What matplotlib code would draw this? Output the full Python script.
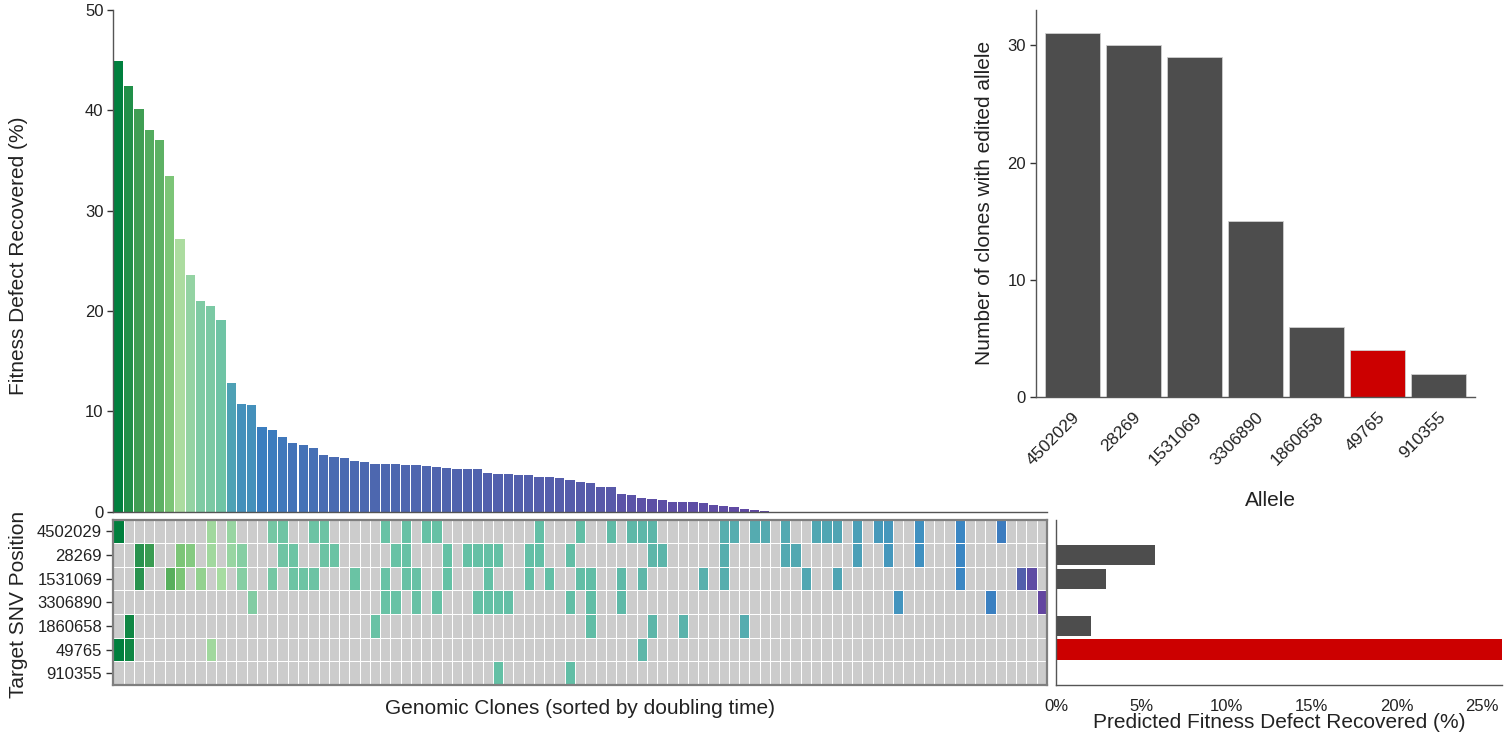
import numpy as np
import matplotlib
matplotlib.use("Agg")
import matplotlib.pyplot as plt
from matplotlib.colors import LinearSegmentedColormap, to_rgb

plt.rcParams['font.family'] = ['Liberation Sans', 'DejaVu Sans']

# ---- datos ----
alleles = ["4502029", "28269", "1531069", "3306890", "1860658", "49765", "910355"]
highlight = "49765"

# fitness defect recovered (%) por clon, ordenado de mayor a menor
fitness_recovered = [44.9, 42.4, 40.1, 38.0, 37.0, 33.5, 27.2, 23.6, 21.0, 20.5,
                     19.1, 12.8, 10.7, 10.6, 8.4, 8.1, 7.4, 6.8, 6.6, 6.3,
                     5.7, 5.5, 5.4, 5.1, 5.0, 4.8, 4.8, 4.75, 4.7, 4.65,
                     4.6, 4.45, 4.4, 4.26, 4.26, 4.22, 3.86, 3.73, 3.73, 3.66,
                     3.63, 3.43, 3.43, 3.33, 3.13, 2.93, 2.90, 2.49, 2.49, 1.73,
                     1.66, 1.37, 1.23, 1.17, 1.0, 1.0, 0.93, 0.90, 0.63, 0.53,
                     0.43, 0.23, 0.13, 0.10] + [0.0] * 27
n_clones = len(fitness_recovered)

# clones (columna, ordenados por doubling time) con cada alelo editado
edit_4502029 = [0, 9, 11, 15, 16, 19, 20, 26, 28, 30, 31, 41, 45, 48, 50, 51, 52, 59,
                60, 62, 63, 65, 68, 69, 70, 72, 74, 75, 78, 82, 86]
edit_28269 = [2, 3, 6, 7, 9, 11, 12, 16, 17, 20, 21, 27, 28, 32, 34, 35, 36, 37, 40,
              41, 44, 52, 53, 59, 65, 66, 72, 75, 78, 82]
edit_1531069 = [2, 5, 6, 8, 10, 12, 15, 17, 18, 19, 23, 26, 28, 29, 32, 36, 40, 42,
                45, 46, 49, 51, 57, 59, 67, 70, 82, 88, 89]
edit_3306890 = [13, 26, 27, 29, 31, 35, 36, 37, 38, 44, 46, 49, 76, 85, 90]
edit_1860658 = [1, 25, 46, 52, 55, 61]
edit_49765 = [0, 1, 9, 51]
edit_910355 = [37, 44]
edited_rows = [edit_4502029, edit_28269, edit_1531069, edit_3306890,
               edit_1860658, edit_49765, edit_910355]

# predicted fitness defect recovered (%) por alelo
predicted_recovered = [0, 5.8, 2.95, 0, 2.03, 26.2, 0]

# ---- colores ----
bar_knots = [0, 2, 5, 8.5, 12.8, 19, 23.6, 27.2, 33.5, 40, 45]
bar_knot_cols = ['#6148a2', '#5a56a8', '#4c68b0', '#3a7fc0', '#4ea2b5', '#6fc4a5',
                 '#94d3a3', '#acdca0', '#7cc577', '#43a055', '#00803e']
bar_cmap = LinearSegmentedColormap.from_list(
    'fit', list(zip(np.array(bar_knots) / 45.0, bar_knot_cols)))

hm_knots = [0, 2, 3, 5, 6, 9, 10, 12, 16, 30, 45, 52, 60, 70, 75, 78, 82, 86, 88, 89, 90]
hm_knot_cols = ['#007f3d', '#2d9550', '#3d9e52', '#58b05c', '#7cc577', '#a3d9a0',
                '#a8dca1', '#86cea3', '#6ec4a4', '#66c1a5', '#62bea6', '#5db6a9',
                '#56adaf', '#4fa5b3', '#4597bc', '#3f90c0', '#3a87c3', '#3b7ec0',
                '#4e63ae', '#5e4fa6', '#6346a0']
hm_cmap = LinearSegmentedColormap.from_list(
    'dt', list(zip(np.array(hm_knots) / 90.0, hm_knot_cols)))

gray_bar = '#4d4d4d'
red_bar = '#cc0000'
axis_col = '#555555'
text_col = '#222222'

W, H = 1510, 738
fig = plt.figure(figsize=(W / 100, H / 100), dpi=100)


def box(x0, y0, x1, y1):
    # pixeles -> fraccion de figura
    return [x0 / W, 1 - y1 / H, (x1 - x0) / W, (y1 - y0) / H]


def clean(ax, keep=('left', 'bottom')):
    for s in ax.spines:
        if s in keep:
            ax.spines[s].set_color(axis_col)
            ax.spines[s].set_linewidth(1)
        else:
            ax.spines[s].set_visible(False)


# ---- barras arriba a la izquierda ----
ax1 = fig.add_axes(box(113.3, 10, 1047, 511.7))
x = np.arange(n_clones)
ax1.bar(x, fitness_recovered, width=0.9,
        color=bar_cmap(np.array(fitness_recovered) / 45.0), edgecolor='none')
ax1.set_xlim(-0.5, n_clones - 0.5)
ax1.set_ylim(0, 50)
ax1.set_xticks([])
ax1.set_yticks(range(0, 51, 10))
clean(ax1)
ax1.tick_params(axis='y', length=4, width=1, color='#333333', labelsize=12,
                labelcolor=text_col, pad=3)

# ---- heatmap ----
ax2 = fig.add_axes(box(113.3, 519.5, 1047, 685))
gray_cell = np.array(to_rgb('#cccccc'))
col_colors = hm_cmap(np.arange(n_clones) / (n_clones - 1))[:, :3]
for r, cols in enumerate(edited_rows):
    cell_cols = np.tile(gray_cell, (n_clones, 1))
    cell_cols[cols] = col_colors[cols]
    ax2.bar(x, 1, bottom=r - 0.5, width=1, color=cell_cols,
            edgecolor='white', linewidth=0.7)
ax2.set_xlim(-0.5, n_clones - 0.5)
ax2.set_ylim(len(alleles) - 0.5, -0.5)
ax2.set_xticks([])
ax2.set_yticks(range(len(alleles)))
ax2.set_yticklabels(alleles)
for s in ax2.spines.values():
    s.set_color('#7f7f7f')
    s.set_linewidth(1.6)
    s.set_zorder(5)
ax2.tick_params(axis='y', length=5, width=1, color='#333333', labelsize=12,
                labelcolor=text_col, pad=3)

# ---- barras horizontales abajo a la derecha ----
ax3 = fig.add_axes(box(1056, 519.5, 1502, 685))
bcols = [red_bar if a == highlight else gray_bar for a in alleles]
ax3.barh(range(len(alleles)), predicted_recovered, height=0.85, color=bcols)
ax3.set_ylim(len(alleles) - 0.5, -0.5)
ax3.set_xlim(0, max(predicted_recovered))
ax3.set_yticks([])
ax3.set_xticks(range(0, 26, 5))
ax3.set_xticklabels(['%d%%' % v for v in range(0, 26, 5)])
clean(ax3)
ax3.tick_params(axis='x', length=0, labelsize=12, labelcolor=text_col, pad=10)

# ---- conteo de clones por alelo ----
ax4 = fig.add_axes(box(1035.6, 10, 1474.8, 397.3))
counts = [len(c) for c in edited_rows]
ax4.bar(range(len(alleles)), counts, width=0.9, color=bcols,
        edgecolor='#d0d0d0', linewidth=0.6)
ax4.set_xlim(-0.6, len(alleles) - 0.4)
ax4.set_ylim(0, 33)
ax4.set_yticks(range(0, 31, 10))
ax4.set_xticks(range(len(alleles)))
ax4.set_xticklabels(alleles, rotation=45, ha='right', va='top', rotation_mode='anchor')
clean(ax4)
ax4.tick_params(axis='y', length=4, width=1, color='#333333', labelsize=12,
                labelcolor=text_col, pad=3)
ax4.tick_params(axis='x', length=0, labelsize=12.5, labelcolor=text_col, pad=9)

# ---- titulos de ejes ----
def ftext(px, py, s, rot=0):
    fig.text(px / W, 1 - py / H, s, ha='center', va='center', rotation=rot,
             fontsize=15, color=text_col)


ftext(19, 256, 'Fitness Defect Recovered (%)', 90)
ftext(19, 604, 'Target SNV Position', 90)
ftext(580, 708, 'Genomic Clones (sorted by doubling time)')
ftext(985, 203, 'Number of clones with edited allele', 90)
ftext(1270, 500, 'Allele')
ftext(1279, 722, 'Predicted Fitness Defect Recovered (%)')

fig.savefig('out.png', dpi=100)
